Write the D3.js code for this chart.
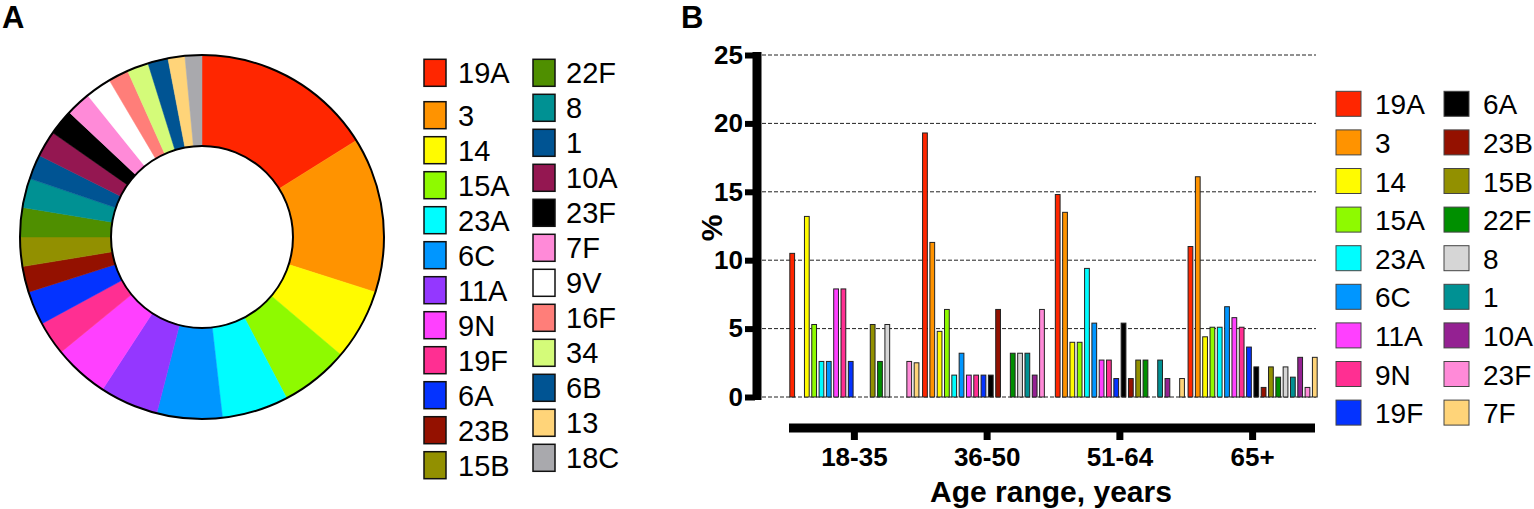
<!DOCTYPE html>
<html><head><meta charset="utf-8">
<script src="https://cdn.jsdelivr.net/npm/d3@7"></script>
<style>body{margin:0;background:#fff}svg{display:block;font-family:"Liberation Sans",Arial,Helvetica,sans-serif}</style>
</head><body>
<svg id="c" width="1534" height="509"></svg>
<script>
// Panel A: donut
const donutLabels = ["19A","3","14","15A","23A","6C","11A","9N","19F","6A","23B","15B","22F","8","1","10A","23F","7F","9V","16F","34","6B","13","18C"];
const donutValues = [16.1,13.8,6.3,6.1,5.9,5.8,5.2,4.9,3.0,3.0,2.3,2.6,2.6,2.6,2.2,2.3,2.3,2.2,2.3,1.8,1.9,1.8,1.5,1.5];
const donutColors = ["#ff2600","#ff9300","#fffb00","#8efa00","#00fdff","#0096ff","#9437ff","#ff40ff","#ff2f92","#0433ff","#941100","#929000","#4f8f00","#009193","#005493","#941751","#000000","#ff8ad8","#ffffff","#ff7e79","#d4fb79","#005493","#ffd479","#a9a9ad"];

// Panel B: grouped bars
const ageGroups = ["18-35","36-50","51-64","65+"];
const barSeries = ["19A","3","14","15A","23A","6C","11A","9N","19F","6A","23B","15B","22F","8","1","10A","23F","7F"];
const barColors = ["#ff2600","#ff9300","#fffb00","#8efa00","#00fdff","#0096ff","#ff40ff","#ff2f92","#0433ff","#000000","#941100","#929000","#008f00","#d6d6d6","#009193","#942192","#ff8ad8","#ffd479"];
const v19A = [10.5,19.3,14.8,11.0];
const v3   = [0,11.3,13.5,16.1];
const v14  = [13.2,4.8,4.0,4.4];
const v15A = [5.3,6.4,4.0,5.1];
const v23A = [2.6,1.6,9.4,5.1];
const v6C  = [2.6,3.2,5.4,6.6];
const v11A = [7.9,1.6,2.7,5.8];
const v9N  = [7.9,1.6,2.7,5.1];
const v19F = [2.6,1.6,1.35,3.65];
const v6A  = [0,1.6,5.4,2.2];
const v23B = [0,6.4,1.35,0.7];
const v15B = [5.3,0,2.7,2.2];
const v22F = [2.6,3.2,2.7,1.45];
const v8   = [5.3,3.2,0,2.2];
const v1   = [0,3.2,2.7,1.45];
const v10A = [0,1.6,1.35,2.9];
const v23F = [2.6,6.4,0,0.7];
const v7F  = [2.5,0,1.35,2.9];
const barValues = [v19A,v3,v14,v15A,v23A,v6C,v11A,v9N,v19F,v6A,v23B,v15B,v22F,v8,v1,v10A,v23F,v7F];
const yTicks = [0,5,10,15,20,25];

const svg = d3.select("#c");

// ---------- Panel A ----------
svg.append("text").attr("x",2).attr("y",28).attr("font-size",31).attr("font-weight","bold").text("A");
const cx = 202, cy = 237, rO = 182, rI = 91;
const pie = d3.pie().sort(null).value(d=>d.v);
const arc = d3.arc().innerRadius(rI).outerRadius(rO);
const dData = donutLabels.map((l,i)=>({l, v:donutValues[i], c:donutColors[i]}));
const gA = svg.append("g").attr("transform",`translate(${cx},${cy})`);
gA.selectAll("path").data(pie(dData)).join("path")
  .attr("d",arc).attr("fill",d=>d.data.c).attr("stroke",d=>d.data.c).attr("stroke-width",0.5);
gA.append("circle").attr("r",rO).attr("fill","none").attr("stroke","#000").attr("stroke-width",2);
gA.append("circle").attr("r",rI).attr("fill","none").attr("stroke","#000").attr("stroke-width",2);

// Legend A
const legA = svg.append("g");
const col1Y = [59.3,101.7,136.7,171.7,206.7,241.7,276.7,311.7,346.7,381.7,416.7,451.7];
dData.forEach((d,i)=>{
  const col = i < 12 ? 0 : 1;
  const r = i % 12;
  const x = col===0 ? 424 : 533;
  const y = col===0 ? col1Y[r] : 59.3 + r*35;
  legA.append("rect").attr("x",x).attr("y",y).attr("width",22).attr("height",27)
    .attr("fill",d.c).attr("stroke","#111").attr("stroke-width",1.5);
  legA.append("text").attr("x",col===0?458:566).attr("y",y+24).attr("font-size",29).text(d.l);
});

// ---------- Panel B ----------
svg.append("text").attr("x",681).attr("y",28).attr("font-size",31).attr("font-weight","bold").text("B");
const y = d3.scaleLinear().domain([0,25]).range([397,55]);
const x0 = d3.scaleBand().domain(ageGroups).range([788,1319]).padding(0);
const x1 = d3.scaleBand().domain(barSeries).range([0,x0.bandwidth()]).paddingInner(0.35).paddingOuter(0.25);

// gridlines
svg.append("g").selectAll("line").data(yTicks).join("line")
  .attr("x1",762).attr("x2",1316).attr("y1",d=>y(d)).attr("y2",d=>y(d))
  .attr("stroke","#222").attr("stroke-width",1).attr("stroke-dasharray","4,2");

// bars
const gB = svg.append("g");
ageGroups.forEach((g,gi)=>{
  barSeries.forEach((s,si)=>{
    const v = barValues[si][gi];
    if (v <= 0) return;
    gB.append("rect")
      .attr("x",x0(g)+x1(s)).attr("y",y(v))
      .attr("width",x1.bandwidth()).attr("height",y(0)-y(v))
      .attr("fill",barColors[si]).attr("stroke","#222").attr("stroke-width",1);
  });
});

// y axis
const yAxis = d3.axisLeft(y).tickValues(yTicks).tickSize(12).tickPadding(2);
const gy = svg.append("g").attr("transform","translate(757,0)").call(yAxis);
gy.select(".domain").remove();
gy.append("line").attr("x1",0).attr("x2",0).attr("y1",52).attr("y2",400).attr("stroke","#000").attr("stroke-width",9);
gy.selectAll(".tick line").attr("stroke","#000").attr("stroke-width",6).attr("x1",-2);
gy.selectAll(".tick text").attr("font-size",26).attr("font-weight","bold").attr("fill","#000")
  .attr("font-family","Liberation Sans, Arial, sans-serif");

svg.append("text").attr("transform","translate(722,228) rotate(-90)").attr("text-anchor","middle")
  .attr("font-size",30).attr("font-weight","bold").text("%");

// x axis
const xAxis = d3.axisBottom(x0).tickSize(12).tickPadding(4).tickSizeOuter(0);
const gx = svg.append("g").attr("transform","translate(0,428)").call(xAxis);
gx.select(".domain").remove();
gx.append("line").attr("x1",789).attr("x2",1315).attr("y1",0).attr("y2",0).attr("stroke","#000").attr("stroke-width",9);
gx.selectAll(".tick line").attr("stroke","#000").attr("stroke-width",7).attr("y1",2);
gx.selectAll(".tick text").attr("font-size",26).attr("font-weight","bold").attr("fill","#000")
  .attr("font-family","Liberation Sans, Arial, sans-serif").attr("dy","0.85em");

svg.append("text").attr("x",1051).attr("y",502).attr("text-anchor","middle")
  .attr("font-size",30).attr("font-weight","bold").text("Age range, years");

// Legend B
const legB = svg.append("g");
barSeries.forEach((s,i)=>{
  const col = i < 9 ? 0 : 1;
  const r = i % 9;
  const yy = 91.3 + r*38.6;
  const sx = col===0 ? 1336 : 1444;
  legB.append("rect").attr("x",sx).attr("y",yy).attr("width",25).attr("height",25)
    .attr("fill",barColors[i]).attr("stroke","#444").attr("stroke-width",1);
  legB.append("text").attr("x",col===0?1375:1483).attr("y",yy+23).attr("font-size",28).text(s);
});
</script>
</body></html>
